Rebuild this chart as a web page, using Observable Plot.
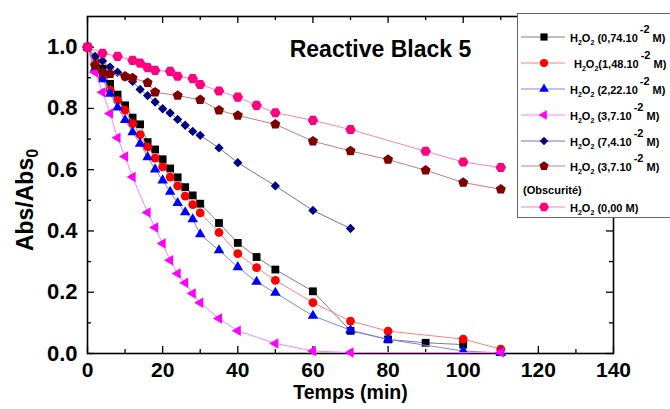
<!DOCTYPE html>
<html><head><meta charset="utf-8">
<script src="https://cdn.jsdelivr.net/npm/d3@7"></script>
<script src="https://cdn.jsdelivr.net/npm/@observablehq/plot@0.6"></script>
<style>
body{margin:0;background:#fff}
#chart{position:relative;width:670px;height:409px;overflow:hidden}
</style>
</head><body><div id="chart"></div>
<script>
// ---- data ----
const tBlack = [0,2,4,6,8,10,12,14,16,18,20,22,24,26,28,30,35,40,45,50,60,70,80,90,100];
const vBlack = [1.0,0.96,0.93,0.88,0.845,0.81,0.77,0.748,0.69,0.666,0.634,0.604,0.575,0.543,0.516,0.489,0.426,0.361,0.315,0.274,0.203,0.074,0.046,0.035,0.029];
const tRed = [0,2,4,6,8,10,12,14,16,18,20,22,24,26,28,30,35,40,45,50,60,70,80,100,110];
const vRed = [1.0,0.95,0.90,0.86,0.826,0.794,0.75,0.714,0.674,0.638,0.609,0.576,0.547,0.514,0.486,0.459,0.395,0.326,0.28,0.239,0.166,0.106,0.073,0.047,0.014];
const tBlue = [0,2,4,6,8,10,12,14,16,18,20,22,24,26,28,30,35,40,45,50,60,70,80,100,110];
const vBlue = [1.0,0.93,0.895,0.848,0.803,0.762,0.722,0.685,0.641,0.601,0.565,0.528,0.491,0.461,0.438,0.389,0.337,0.282,0.234,0.198,0.123,0.076,0.046,0.008,0.002];
const tMagenta = [0,2,4,6,8,10,12,16,18,20,22,24,26,28,30,35,40,50,60,70,110];
const vMagenta = [1.0,0.918,0.853,0.783,0.704,0.643,0.576,0.46,0.411,0.359,0.304,0.261,0.231,0.196,0.166,0.114,0.074,0.033,0.008,0.003,0.003];
const tNavy = [0,2,4,6,8,10,12,14,16,18,20,22,24,26,28,30,35,40,50,60,70];
const vNavy = [1.0,0.97,0.955,0.935,0.918,0.902,0.888,0.862,0.842,0.821,0.799,0.785,0.764,0.745,0.725,0.712,0.671,0.623,0.547,0.467,0.408];
const tDarkRed = [0,2,4,6,10,12,16,18,24,30,35,40,50,60,70,80,90,100,110];
const vDarkRed = [1.0,0.94,0.918,0.913,0.905,0.899,0.884,0.853,0.842,0.828,0.794,0.777,0.748,0.693,0.661,0.633,0.598,0.558,0.536];
const tPink = [0,4,8,12,14,16,18,22,24,28,30,35,40,45,50,60,70,90,100,110];
const vPink = [1.0,0.98,0.97,0.957,0.948,0.933,0.924,0.921,0.905,0.897,0.878,0.857,0.837,0.81,0.786,0.761,0.731,0.66,0.625,0.607];

const legendConc = [" (0,74.10", "(1,48.10", " (2,22.10", " (3,7.10", " (7,4.10", " (3,7.10", " (0,00 M)"];
const legendExp = ["-2", "-2", "-2", "-2", "-2", "-2", ""];
const legendNote = "(Obscurité)";
const xTicks = [0,20,40,60,80,100,120,140];
const xMinorTicks = [10,30,50,70,90,110,130];
const yTicks = [0,0.2,0.4,0.6,0.8,1.0];
const yMinorTicks = [0.1,0.3,0.5,0.7,0.9];
const titleText = "Reactive Black 5";
const xTitle = "Temps (min)";

// ---- custom symbols ----
const symPentagon = {draw(ctx, size) {
  const r = Math.sqrt(size / (2.5 * Math.sin(2 * Math.PI / 5)));
  for (let i = 0; i < 5; i++) {
    const a = -Math.PI / 2 + i * 2 * Math.PI / 5;
    const x = r * Math.cos(a), y = r * Math.sin(a);
    if (i) ctx.lineTo(x, y); else ctx.moveTo(x, y);
  }
  ctx.closePath();
}};
const symTriLeft = {draw(ctx, size) {
  const s = Math.sqrt(size * 4 / Math.sqrt(3));
  const h = s * Math.sqrt(3) / 2;
  ctx.moveTo(-h * 2 / 3, 0); ctx.lineTo(h / 3, -s / 2); ctx.lineTo(h / 3, s / 2); ctx.closePath();
}};
const symHex = {draw(ctx, size) {
  const r = Math.sqrt(size / (1.5 * Math.sqrt(3)));
  for (let i = 0; i < 6; i++) {
    const a = i * Math.PI / 3;
    const x = r * Math.cos(a), y = r * Math.sin(a);
    if (i) ctx.lineTo(x, y); else ctx.moveTo(x, y);
  }
  ctx.closePath();
}};

const series = [
  {t: tBlack, v: vBlack, fill: "#000000", line: "#7f7f7f", symbol: d3.symbolSquare, r: 4.4},
  {t: tRed, v: vRed, fill: "#ff0000", line: "#ff8080", symbol: d3.symbolCircle, r: 4.4},
  {t: tBlue, v: vBlue, fill: "#0000ff", line: "#8080ff", symbol: d3.symbolTriangle, r: 3.9},
  {t: tMagenta, v: vMagenta, fill: "#ff00ff", line: "#ff80ff", symbol: symTriLeft, r: 3.9},
  {t: tNavy, v: vNavy, fill: "#000080", line: "#7070c0", symbol: d3.symbolDiamond2, r: 4.2},
  {t: tDarkRed, v: vDarkRed, fill: "#800000", line: "#c08080", symbol: symPentagon, r: 4.6},
  {t: tPink, v: vPink, fill: "#ff0080", line: "#ff80c0", symbol: symHex, r: 4.8}
];

const W = 670, H = 409, mL = 87, mR = 57, mT = 16, mB = 56;
const innerW = W - mL - mR, innerH = H - mT - mB;
const font = "'Liberation Sans', Arial, Helvetica, sans-serif";

const marks = [
  Plot.tickX(xTicks, {x: d => d, insetTop: innerH - 7, stroke: "#000", strokeWidth: 1.3}),
  Plot.tickX(xMinorTicks, {x: d => d, insetTop: innerH - 4, stroke: "#000", strokeWidth: 1.3}),
  Plot.tickX(xTicks, {x: d => d, insetBottom: innerH - 7, stroke: "#000", strokeWidth: 1.3}),
  Plot.tickX(xMinorTicks, {x: d => d, insetBottom: innerH - 4, stroke: "#000", strokeWidth: 1.3}),
  Plot.tickY(yTicks, {y: d => d, insetRight: innerW - 7, stroke: "#000", strokeWidth: 1.3}),
  Plot.tickY(yMinorTicks, {y: d => d, insetRight: innerW - 4, stroke: "#000", strokeWidth: 1.3}),
  Plot.tickY(yTicks, {y: d => d, insetLeft: innerW - 7, stroke: "#000", strokeWidth: 1.3}),
  Plot.tickY(yMinorTicks, {y: d => d, insetLeft: innerW - 4, stroke: "#000", strokeWidth: 1.3}),
  Plot.axisX(xTicks, {tickSize: 0, tickPadding: 9, fontSize: 21, fontWeight: "bold", tickFormat: d => String(d), fill: "#000", label: null}),
  Plot.axisY(yTicks, {tickSize: 0, tickPadding: 10, fontSize: 22, fontWeight: "bold", tickFormat: d => d.toFixed(1), fill: "#000", label: null}),
  Plot.frame({stroke: "#000", strokeWidth: 1.6})
];
for (const s of series) {
  const data = s.t.map((t, i) => ({t, v: s.v[i]}));
  marks.push(Plot.line(data, {x: "t", y: "v", stroke: s.line, strokeWidth: 1}));
  marks.push(Plot.dot(data, {x: "t", y: "v", symbol: s.symbol, fill: s.fill, r: s.r}));
}
marks.push(Plot.text([titleText], {frameAnchor: "top", dx: 30, dy: 24, fontSize: 23, fontWeight: "bold", fill: "#000"}));
marks.push(Plot.text([xTitle], {frameAnchor: "bottom", dy: 45, fontSize: 19.5, fontWeight: "bold", fill: "#000"}));

const chart = Plot.plot({
  width: W, height: H,
  marginLeft: mL, marginRight: mR, marginTop: mT, marginBottom: mB,
  x: {domain: [0, 140], axis: null, label: null},
  y: {domain: [0, 1.1], axis: null, label: null},
  style: {fontFamily: font, background: "#fff", color: "#000", overflow: "visible"},
  marks
});
document.getElementById("chart").appendChild(chart);

// ---- y-axis title with subscript ----
const svg = d3.select(chart);
const yl = svg.append("text")
  .attr("transform", "translate(33,200) rotate(-90)")
  .attr("text-anchor", "middle")
  .style("font-family", font).style("font-size", "23px").style("font-weight", "bold").attr("fill", "#000");
yl.append("tspan").text("Abs/Abs");
yl.append("tspan").attr("dy", 5).style("font-size", "16px").text("0");

// ---- legend ----
const lg = svg.append("g").style("font-family", font).style("font-weight", "bold").attr("text-anchor", "start");
lg.append("rect").attr("x", 517.5).attr("y", 13.5).attr("width", 160).attr("height", 204)
  .attr("fill", "#fff").attr("stroke", "#666").attr("stroke-width", 1);
const rowY = [37, 63, 89, 115, 141, 166, 207];
const textX = [570, 574, 570, 570, 570, 570, 570];
series.forEach((s, i) => {
  const y = rowY[i];
  lg.append("line").attr("x1", 521).attr("x2", 565).attr("y1", y).attr("y2", y)
    .attr("stroke", s.line).attr("stroke-width", 1);
  lg.append("path").attr("transform", `translate(544,${y})`)
    .attr("d", d3.symbol(s.symbol, Math.PI * s.r * s.r * 0.85)()).attr("fill", s.fill);
  const tx = lg.append("text").attr("x", textX[i]).attr("y", y + 5).attr("text-anchor", "start")
    .style("font-size", "11px").attr("fill", "#000");
  tx.append("tspan").text("H");
  tx.append("tspan").attr("dy", 3).style("font-size", "7px").text("2");
  tx.append("tspan").attr("dy", -3).text("O");
  tx.append("tspan").attr("dy", 3).style("font-size", "7px").text("2");
  tx.append("tspan").attr("dy", -3).text(legendConc[i]);
  if (legendExp[i]) {
    tx.append("tspan").attr("dx", 2).attr("dy", -9).style("font-size", "11px").text(legendExp[i]);
    tx.append("tspan").attr("dy", 9).text(" M)");
  }
});
lg.append("text").attr("x", 523).attr("y", 194).attr("text-anchor", "start")
  .style("font-size", "11px").attr("fill", "#000").text(legendNote);
</script>
</body></html>
